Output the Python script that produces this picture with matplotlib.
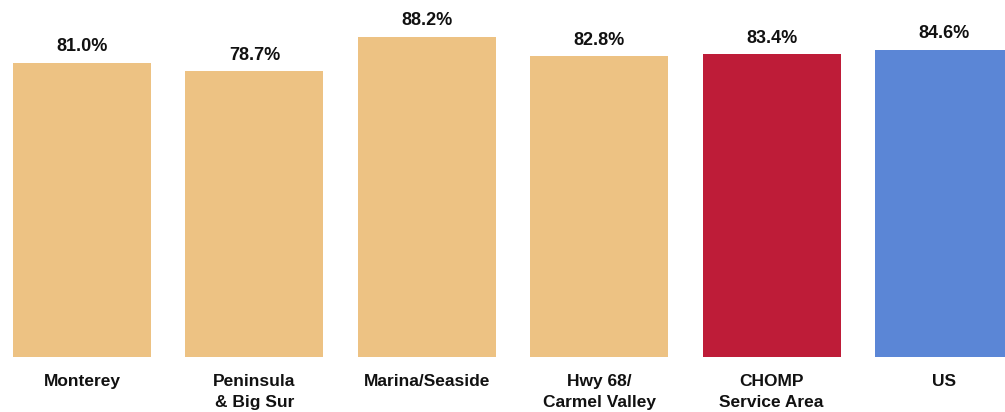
import matplotlib
matplotlib.use("Agg")
import matplotlib.pyplot as plt
from matplotlib import font_manager

names = {f.name for f in font_manager.fontManager.ttflist}
fam = [f for f in ['Liberation Sans Narrow', 'Liberation Sans', 'DejaVu Sans'] if f in names]
plt.rcParams['font.family'] = fam

categories = ["Monterey", "Peninsula\n& Big Sur", "Marina/Seaside", "Hwy 68/\nCarmel Valley",
              "CHOMP\nService Area", "US"]
values = [81.0, 78.7, 88.2, 82.8, 83.4, 84.6]
colors = ["#EDC283", "#EDC283", "#EDC283", "#EDC283", "#BE1C38", "#5B86D6"]

fig = plt.figure(figsize=(10.05, 4.12), dpi=100)
ax = fig.add_axes([0, 0, 1, 1])
x = list(range(len(values)))
bars = ax.bar(x, values, width=0.8, color=colors)

for xi, v in zip(x, values):
    ax.annotate(f"{v:.1f}%", (xi, v), xytext=(0, 5.5), textcoords="offset points",
                ha="center", va="bottom", fontsize=13, fontweight="bold", color="#111111")

for xi, c in zip(x, categories):
    ax.annotate(c, (xi, 0), xytext=(0, -12.5), textcoords="offset points",
                ha="center", va="top", fontsize=12.5, fontweight="bold", color="#111111",
                linespacing=1.45)

ax.set_xlim(-0.4756, 5.354)
ax.set_ylim(-15.15, 98.35)
ax.axis("off")

fig.savefig("out.png", dpi=100)
